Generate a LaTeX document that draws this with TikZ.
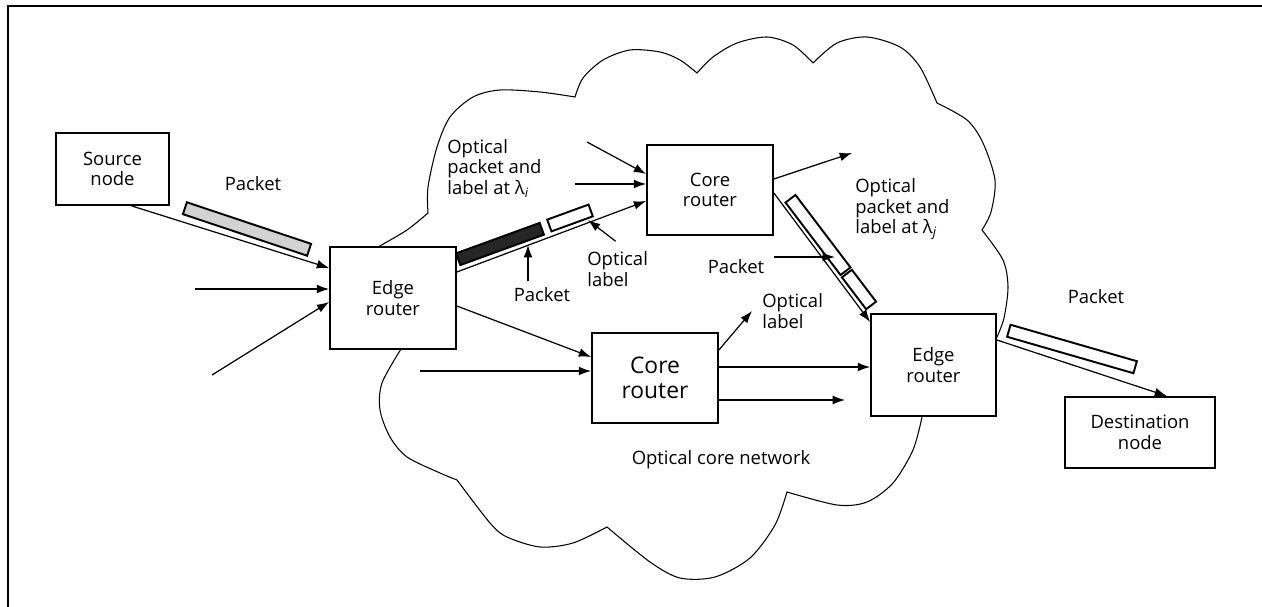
\documentclass[tikz,border=0pt]{standalone}
\usepackage{fontspec}
\setmainfont{Open Sans}
\usetikzlibrary{calc,arrows.meta}

\tikzset{
  box/.style={draw, line width=1pt, fill=white, align=center, inner sep=0pt},
  lbl/.style={align=left, inner sep=0pt},
  arr/.style={line width=0.7pt, -{Latex[length=7pt,width=5pt]}},
  pkt/.style={draw, line width=1.1pt, minimum height=0.25cm, inner sep=0pt},
}

\begin{document}
\begin{tikzpicture}[x=0.02cm, y=-0.02cm, font=\fontsize{10.5}{11.7}\selectfont]
        \useasboundingbox (0,0) rectangle (1262,607);
        %% frame
        \draw[line width=0.6pt] (8,607) -- (8,6) -- (1262,6);
        %% optical core network (cloud)
        \draw[line width=0.6pt]
          plot[smooth] coordinates {(378,247) (407,230) (428,213)}
          -- plot[smooth] coordinates {(428,213) (428,187) (437,147) (450,117) (473,97) (500,90) (540,92) (575,97)}
          -- plot[smooth] coordinates {(575,97) (583,78) (603,60) (630,50) (660,52) (680,60) (697,73)}
          -- plot[smooth] coordinates {(697,73) (713,57) (737,43) (767,37) (793,45) (813,63)}
          -- plot[smooth] coordinates {(813,63) (837,43) (867,37) (900,47) (920,67) (937,103)}
          -- plot[smooth] coordinates {(937,103) (967,120) (983,143) (995,180) (991,212) (982,230)}
          -- plot[smooth] coordinates {(982,230) (1003,260) (1008,287) (1004,318) (997,337)}
          -- (922,417)
          -- plot[smooth] coordinates {(922,417) (913,450) (893,483) (867,502) (837,505) (787,492)}
          -- plot[smooth] coordinates {(787,492) (775,525) (750,558) (715,577) (680,578) (650,562) (607,527)}
          -- plot[smooth] coordinates {(607,527) (573,543) (540,547) (507,537) (490,523) (457,480)}
          -- plot[smooth] coordinates {(457,480) (440,473) (407,457) (390,437) (380,410) (382,383) (401,349)}
          -- cycle;
        %% nodes and routers
        \node[box, minimum width=2.26cm, minimum height=1.44cm] (src) at (112.5,169) {Source\\node};
        \node[box, minimum width=2.52cm, minimum height=2.04cm] (er1) at (393,298) {Edge\\router};
        \node[box, minimum width=2.52cm, minimum height=1.8cm] (cr1) at (710,190) {Core\\router};
        \node[box, minimum width=2.52cm, minimum height=1.8cm, font=\fontsize{13}{14.2}\selectfont] (cr2) at (655,378) {Core\\router};
        \node[box, minimum width=2.5cm, minimum height=2.04cm] (er2) at (933.5,365) {Edge\\router};
        \node[box, minimum width=3cm, minimum height=1.42cm] (dst) at (1140,432.5) {Destination\\node};
        %% labels
        \node[lbl] (pktA) at (253,184) {Packet};
        \node[lbl, anchor=west] (oplA) at (447,168) {Optical\\packet and\\label at λ\textsubscript{\itshape i}};
        \node[lbl] (pktB) at (542,295) {Packet};
        \node[lbl, anchor=west] (oplB) at (587,269) {Optical\\label};
        \node[lbl] (pktC) at (736,267) {Packet};
        \node[lbl, anchor=west] (oplD) at (855,209) {Optical\\packet and\\label at λ\textsubscript{\itshape j}};
        \node[lbl, anchor=west] (oplC) at (762,311) {Optical\\label};
        \node[lbl] (pktD) at (1096,297) {Packet};
        \node[lbl] (net) at (721,460) {Optical core network};
        %% free ends
        \coordinate (inA) at (195,289);
        \coordinate (inB) at (212,375);
        \coordinate (inC) at (587,142);
        \coordinate (inD) at (575,184);
        \coordinate (outA) at (852,153);
        \coordinate (inE) at (420,371);
        \coordinate (outB) at (845,400);
        \coordinate (tipB) at (528,245);
        \coordinate (tipE) at (588,220);
        \coordinate (tipF) at (835,257);
        %% links
        \draw[arr] ($(src.south)+(19,0)$) -- ($(er1.west)+(0,-30)$);
        \draw[arr] (inA) -- ($(er1.west)+(0,-9)$);
        \draw[arr] (inB) -- ($(er1.west)+(0,4)$);
        \draw[arr] ($(er1.east)+(0,-26)$) -- ($(cr1.west)+(0,11)$);
        \draw[arr] (inC) -- ($(cr1.west)+(0,-16)$);
        \draw[arr] (inD) -- ($(cr1.west)+(0,-6)$);
        \draw[arr] ($(cr1.east)+(0,-11)$) -- (outA);
        \draw[arr] ($(cr1.east)+(0,3)$) -- ($(er2.west)+(0,-43)$);
        \draw[arr] ($(er1.east)+(0,8)$) -- ($(cr2.west)+(0,-21)$);
        \draw[arr] (inE) -- ($(cr2.west)+(0,-7)$);
        \draw[arr] ($(cr2.east)+(0,-28)$) -- ($(oplC.west)+(-10,0)$);
        \draw[arr] ($(cr2.east)+(0,-11)$) -- ($(er2.west)+(0,2)$);
        \draw[arr] ($(cr2.east)+(0,22)$) -- (outB);
        \draw[arr] ($(er2.east)+(0,-25)$) -- ($(dst.north)+(27,0)$);
        %% packets and optical labels
        \node[pkt, fill=gray!35, minimum width=2.62cm, rotate=-18.5] (barA) at (247,229) {};
        \node[pkt, fill=black!85, minimum width=1.78cm, rotate=20] (barD) at (500,244) {};
        \node[pkt, fill=white, minimum width=0.88cm, rotate=20] (barE) at (570,218) {};
        \node[pkt, fill=white, minimum width=1.82cm, rotate=-52.8] (barF) at (818,235) {};
        \node[pkt, fill=white, minimum width=0.8cm, rotate=-52.8] (barG) at (859,289.5) {};
        \node[pkt, fill=white, minimum width=2.63cm, rotate=-16.1] (barH) at (1072,349) {};
        %% pointers
        \draw[arr] ($(pktB.north)+(-14,-7)$) -- (tipB);
        \draw[arr] ($(oplB.north)+(-2,-10)$) -- (tipE);
        \draw[arr] ($(pktC.east)+(9,-10)$) -- (tipF);
    \end{tikzpicture}
\end{document}
